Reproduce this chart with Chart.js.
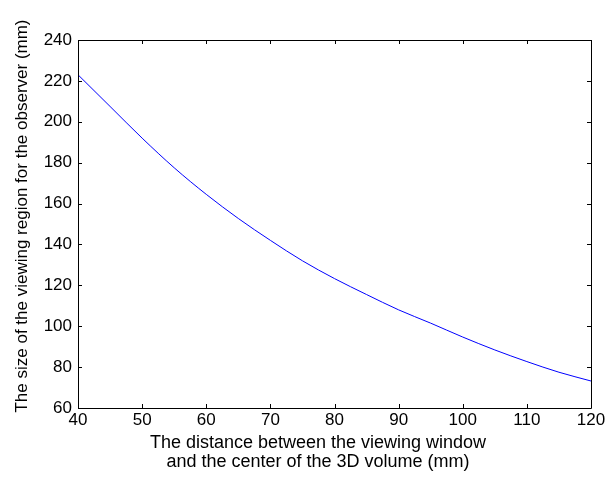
<!DOCTYPE html>
<html>
<head>
<meta charset="utf-8">
<script src="https://cdn.jsdelivr.net/npm/chart.js@4/dist/chart.umd.min.js"></script>
<style>
  html, body { margin: 0; padding: 0; background: #fff; }
  #wrap { width: 608px; height: 487px; }
</style>
</head>
<body>
<div id="wrap"><canvas id="myChart" width="608" height="487"></canvas></div>
<script>
// values
var distance = [40, 45, 50, 55, 60, 65, 70, 75, 80, 85, 90, 95, 100, 105, 110, 115, 120];
var regionSize = [223, 207.5, 192, 177.5, 164.5, 152.7, 142, 132, 123.3, 115.5, 108, 101.5, 94.7, 88.4, 82.7, 77.5, 73.2];
var xTicks = [40, 50, 60, 70, 80, 90, 100, 110, 120];
var yTicks = [60, 80, 100, 120, 140, 160, 180, 200, 220, 240];

var xTitle = ["The distance between the viewing window", "and the center of the 3D volume (mm)"];
var yTitle = "The size of the viewing region for the observer (mm)";

var fontFamily = "'Liberation Sans', Arial, Helvetica, sans-serif";

// matlab style box with inward ticks + axis titles
var boxPlugin = {
    id: 'boxPlugin',
    afterDraw: function (chart) {
        var ctx = chart.ctx;
        var a = chart.chartArea;
        var xs = chart.scales.x;
        var ys = chart.scales.y;
        var tl = 4;
        ctx.save();
        ctx.strokeStyle = '#000';
        ctx.lineWidth = 1;
        ctx.beginPath();
        ctx.rect(Math.round(a.left) + 0.5, Math.round(a.top) + 0.5,
            Math.round(a.right - a.left), Math.round(a.bottom - a.top));
        ctx.stroke();

        ctx.beginPath();
        xTicks.forEach(function (t) {
            var px = Math.round(xs.getPixelForValue(t)) + 0.5;
            ctx.moveTo(px, a.bottom);
            ctx.lineTo(px, a.bottom - tl);
            ctx.moveTo(px, a.top);
            ctx.lineTo(px, a.top + tl);
        });
        yTicks.forEach(function (t) {
            var py = Math.round(ys.getPixelForValue(t)) + 0.5;
            ctx.moveTo(a.left, py);
            ctx.lineTo(a.left + tl, py);
            ctx.moveTo(a.right, py);
            ctx.lineTo(a.right - tl, py);
        });
        ctx.stroke();

        ctx.fillStyle = '#000';
        ctx.textAlign = 'center';
        ctx.textBaseline = 'middle';
        ctx.font = '18px ' + fontFamily;
        ctx.fillText(xTitle[0], 318, 443);
        ctx.fillText(xTitle[1], 318, 462);

        ctx.font = '17px ' + fontFamily;
        ctx.translate(22, 216);
        ctx.rotate(-Math.PI / 2);
        ctx.fillText(yTitle, 0, 0);
        ctx.restore();
    }
};

var ctx = document.getElementById("myChart");

var myChart = new Chart(ctx, {
    type: 'line',
    data: {
        datasets: [{
            data: distance.map(function (d, i) { return { x: d, y: regionSize[i] }; }),
            borderColor: '#0000ff',
            borderWidth: 1,
            pointRadius: 0,
            fill: false,
            cubicInterpolationMode: 'monotone'
        }]
    },
    options: {
        responsive: false,
        animation: false,
        layout: { padding: { top: 40, right: 17, left: 0, bottom: 0 } },
        plugins: {
            legend: { display: false },
            tooltip: { enabled: false }
        },
        scales: {
            x: {
                type: 'linear',
                min: 40,
                max: 120,
                afterBuildTicks: function (scale) {
                    scale.ticks = xTicks.map(function (v) { return { value: v }; });
                },
                afterFit: function (scale) { scale.height = 79; },
                grid: { display: false, drawTicks: false },
                border: { display: false },
                ticks: {
                    padding: 2,
                    color: '#000',
                    maxRotation: 0,
                    font: { family: fontFamily, size: 17 }
                }
            },
            y: {
                type: 'linear',
                min: 60,
                max: 240,
                afterBuildTicks: function (scale) {
                    scale.ticks = yTicks.map(function (v) { return { value: v }; });
                },
                afterFit: function (scale) { scale.width = 78; },
                grid: { display: false, drawTicks: false },
                border: { display: false },
                ticks: {
                    padding: 6,
                    color: '#000',
                    font: { family: fontFamily, size: 17 }
                }
            }
        }
    },
    plugins: [boxPlugin]
});
</script>
</body>
</html>
